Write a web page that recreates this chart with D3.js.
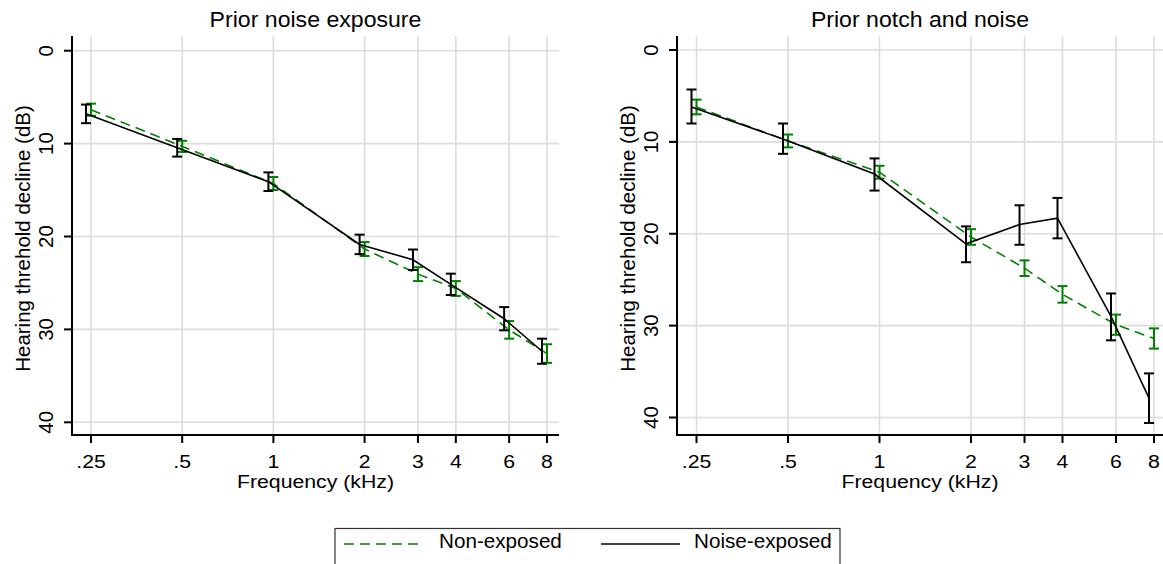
<!DOCTYPE html>
<html>
<head>
<meta charset="utf-8">
<script src="https://cdn.jsdelivr.net/npm/d3@7"></script>
<style>
  body { margin: 0; background: #fff; }
  text { font-family: "Liberation Sans", Arial, sans-serif; fill: #000; }
</style>
</head>
<body>
<script>
// frequencies (kHz) and their tick labels
const freqs = [0.25, 0.5, 1, 2, 3, 4, 6, 8];
const freqLabels = [".25", ".5", "1", "2", "3", "4", "6", "8"];
const yTicks = [0, 10, 20, 30, 40];
const seriesNames = ["Non-exposed", "Noise-exposed"];
const panelTitles = ["Prior noise exposure", "Prior notch and noise"];

// panel 1: prior noise exposure
const p1NonMean = [6.35, 10.3, 14.3, 21.35, 24.05, 25.6, 30.05, 32.6];
const p1NonLo   = [5.7, 9.7, 13.6, 20.6, 23.3, 24.8, 29.1, 31.6];
const p1NonHi   = [7.0, 10.9, 15.0, 22.1, 24.8, 26.4, 31.0, 33.6];
const p1ExpMean = [6.8, 10.45, 14.1, 20.85, 22.5, 25.15, 28.85, 32.35];
const p1ExpLo   = [5.8, 9.5, 13.1, 19.8, 21.4, 24.0, 27.6, 31.0];
const p1ExpHi   = [7.8, 11.4, 15.1, 21.9, 23.6, 26.3, 30.1, 33.7];

// panel 2: prior notch and noise
const p2NonMean = [6.2, 9.9, 13.3, 20.35, 23.75, 26.6, 29.9, 31.4];
const p2NonLo   = [5.4, 9.2, 12.6, 19.5, 22.9, 25.7, 28.8, 30.3];
const p2NonHi   = [7.0, 10.6, 14.0, 21.2, 24.6, 27.5, 31.0, 32.5];
const p2ExpMean = [6.2, 9.7, 13.5, 21.1, 19.0, 18.3, 29.0, 37.9];
const p2ExpLo   = [4.3, 8.0, 11.8, 19.2, 16.9, 16.1, 26.5, 35.2];
const p2ExpHi   = [8.0, 11.3, 15.3, 23.1, 21.2, 20.5, 31.6, 40.6];

const GREEN = "#008000";
const GRID = "#dcdcdc";

const svg = d3.select("body").append("svg")
              .attr("width", 1163)
              .attr("height", 564);

// horizontal text in the source is a bit wide for its height, so stretch it in x
function label(g, x, y, str, size, sx, anchor, rotated) {
    const t = g.append("text")
               .attr("font-size", size + "px")
               .attr("text-anchor", anchor)
               .text(str);
    if (rotated) t.attr("transform", `translate(${x},${y}) rotate(-90)`);
    else t.attr("transform", `translate(${x},${y}) scale(${sx},1)`);
    return t;
}

function drawPanel(p) {
    const g = svg.append("g");
    const x = d3.scaleLog().base(2).domain([0.25, 8]).range([p.xa, p.xb]);
    const y = d3.scaleLinear().domain([0, 40]).range([p.y0, p.y40]);
    const top = 36, bottom = 435;

    // grid
    g.selectAll(".vgrid").data(freqs).enter().append("line")
     .attr("x1", d => x(d)).attr("x2", d => x(d))
     .attr("y1", top).attr("y2", bottom)
     .attr("stroke", GRID).attr("stroke-width", 1.6);
    g.selectAll(".hgrid").data(yTicks).enter().append("line")
     .attr("x1", p.axisX).attr("x2", p.right)
     .attr("y1", d => y(d)).attr("y2", d => y(d))
     .attr("stroke", GRID).attr("stroke-width", 1.6);

    // axes
    g.append("line").attr("x1", p.axisX).attr("x2", p.axisX)
     .attr("y1", top).attr("y2", bottom + 1)
     .attr("stroke", "#000").attr("stroke-width", 2);
    g.append("line").attr("x1", p.axisX - 1).attr("x2", p.right)
     .attr("y1", bottom).attr("y2", bottom)
     .attr("stroke", "#000").attr("stroke-width", 2);

    g.selectAll(".ytick").data(yTicks).enter().append("line")
     .attr("x1", p.axisX - 8).attr("x2", p.axisX)
     .attr("y1", d => y(d)).attr("y2", d => y(d))
     .attr("stroke", "#000").attr("stroke-width", 2);
    yTicks.forEach(d => label(g, p.axisX - 19, y(d), d, 20.5, 1, "middle", true));

    g.selectAll(".xtick").data(freqs).enter().append("line")
     .attr("x1", d => x(d)).attr("x2", d => x(d))
     .attr("y1", bottom).attr("y2", bottom + 8)
     .attr("stroke", "#000").attr("stroke-width", 2);
    freqs.forEach((d, i) => label(g, x(d), 468, freqLabels[i], 18.5, 1.15, "middle", false));

    // titles
    const cx = (p.axisX + p.right) / 2;
    label(g, cx, 27, p.title, 22, 1.05, "middle", false);
    label(g, cx, 488, "Frequency (kHz)", 18.5, 1.15, "middle", false);
    label(g, p.axisX - 42, (top + bottom) / 2 + 3, "Hearing threhold decline (dB)", 20.5, 1, "middle", true);

    // series: green dashed (non-exposed) then black solid (noise-exposed, nudged left)
    const series = [
        { mean: p.nonMean, lo: p.nonLo, hi: p.nonHi, color: GREEN, dash: "10,6", width: 1.6, dx: 0 },
        { mean: p.expMean, lo: p.expLo, hi: p.expHi, color: "#000", dash: null, width: 1.6, dx: -5 }
    ];
    series.forEach(s => {
        const pts = freqs.map((f, i) => ({ f, m: s.mean[i], lo: s.lo[i], hi: s.hi[i] }));
        const line = d3.line().x(d => x(d.f) + s.dx).y(d => y(d.m));
        g.append("path").datum(pts)
         .attr("d", line)
         .attr("fill", "none")
         .attr("stroke", s.color)
         .attr("stroke-width", s.width)
         .attr("stroke-dasharray", s.dash);

        const bars = g.selectAll(null).data(pts).enter().append("g")
                      .attr("stroke", s.color).attr("stroke-width", 2);
        bars.append("line")
            .attr("x1", d => x(d.f) + s.dx).attr("x2", d => x(d.f) + s.dx)
            .attr("y1", d => y(d.lo)).attr("y2", d => y(d.hi));
        bars.append("line")
            .attr("x1", d => x(d.f) + s.dx - 5).attr("x2", d => x(d.f) + s.dx + 5)
            .attr("y1", d => y(d.lo)).attr("y2", d => y(d.lo));
        bars.append("line")
            .attr("x1", d => x(d.f) + s.dx - 5).attr("x2", d => x(d.f) + s.dx + 5)
            .attr("y1", d => y(d.hi)).attr("y2", d => y(d.hi));
    });
}

drawPanel({
    title: panelTitles[0], axisX: 72, right: 559, xa: 91, xb: 547, y0: 50.7, y40: 422.3,
    nonMean: p1NonMean, nonLo: p1NonLo, nonHi: p1NonHi,
    expMean: p1ExpMean, expLo: p1ExpLo, expHi: p1ExpHi
});
drawPanel({
    title: panelTitles[1], axisX: 677, right: 1163, xa: 696.5, xb: 1154, y0: 50, y40: 417.5,
    nonMean: p2NonMean, nonLo: p2NonLo, nonHi: p2NonHi,
    expMean: p2ExpMean, expLo: p2ExpLo, expHi: p2ExpHi
});

// legend
const legend = svg.append("g");
legend.append("rect")
      .attr("x", 335).attr("y", 528.5)
      .attr("width", 505).attr("height", 60)
      .attr("fill", "#fff").attr("stroke", "#333").attr("stroke-width", 1.2);
legend.append("line")
      .attr("x1", 344).attr("x2", 423).attr("y1", 544).attr("y2", 544)
      .attr("stroke", GREEN).attr("stroke-width", 1.6).attr("stroke-dasharray", "10,6");
label(legend, 439, 548, seriesNames[0], 19.5, 1.06, "start", false);
legend.append("line")
      .attr("x1", 601).attr("x2", 680).attr("y1", 544).attr("y2", 544)
      .attr("stroke", "#000").attr("stroke-width", 1.6);
label(legend, 694, 548, seriesNames[1], 19.5, 1.06, "start", false);
</script>
</body>
</html>
